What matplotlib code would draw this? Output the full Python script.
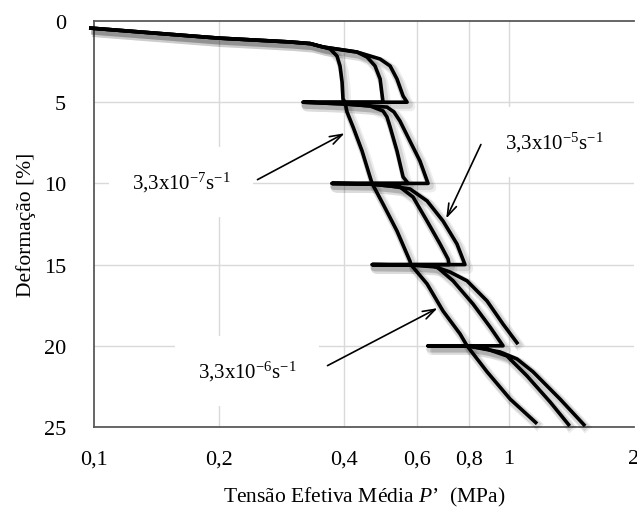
import numpy as np
import matplotlib
matplotlib.use("Agg")
import matplotlib.pyplot as plt
import matplotlib.patheffects as pe

plt.rcParams['font.family'] = ['Liberation Serif', 'DejaVu Serif']
plt.rcParams['mathtext.fontset'] = 'custom'
plt.rcParams['mathtext.rm'] = 'Liberation Serif'
plt.rcParams['mathtext.it'] = 'Liberation Serif:italic'

# mean effective stress p' (MPa) and strain (%) for each strain rate
p_slow = [0.0973, 0.199, 0.2967, 0.3316, 0.3563, 0.3705, 0.385, 0.3915, 0.396, 0.398, 0.4025,
          0.407, 0.421, 0.4424, 0.4624, 0.4677,
          0.497, 0.537, 0.577, 0.580,
          0.6346, 0.6934, 0.762, 0.792,
          0.885, 1.006, 1.168]
e_slow = [0.43, 1.05, 1.29, 1.39, 1.60, 1.72, 2.16, 2.77, 3.76, 4.80, 5.0,
          5.6, 6.53, 8.0, 9.6, 10.0,
          11.27, 12.93, 14.78, 15.0,
          16.19, 17.86, 19.27, 20.0,
          21.6, 23.28, 24.8]

p_med = [0.0973, 0.199, 0.2967, 0.3316, 0.3563, 0.430, 0.4549, 0.4755, 0.489, 0.497,
         0.319, 0.4025, 0.4624, 0.497, 0.508, 0.517, 0.537, 0.5555, 0.5712,
         0.3745, 0.4624, 0.517, 0.546, 0.587, 0.6346, 0.682, 0.713, 0.717,
         0.468, 0.587, 0.671, 0.733, 0.819, 0.900, 0.967,
         0.638, 0.792, 0.885, 0.989, 1.105, 1.256, 1.40]
e_med = [0.43, 1.05, 1.29, 1.39, 1.60, 1.91, 2.22, 2.77, 3.57, 5.0,
         5.0, 5.11, 5.23, 5.54, 5.91, 6.53, 8.0, 9.6, 10.0,
         10.0, 10.04, 10.16, 10.22, 10.84, 12.32, 13.73, 14.66, 15.0,
         15.0, 15.03, 15.15, 16.0, 17.43, 18.84, 20.0,
         20.0, 20.0, 20.2, 20.63, 21.86, 23.46, 24.94]

p_fast = [0.0973, 0.199, 0.2967, 0.3316, 0.3563, 0.430, 0.489, 0.517, 0.537, 0.5555, 0.568,
          0.319, 0.4025, 0.4624, 0.508, 0.528, 0.546, 0.577, 0.610, 0.638,
          0.3745, 0.4624, 0.517, 0.577, 0.6346, 0.6934, 0.749, 0.783,
          0.468, 0.587, 0.656, 0.721, 0.792, 0.885, 0.967, 1.051, np.nan,
          0.638, 0.792, 0.951, 1.045, 1.142, 1.327, 1.525]
e_fast = [0.43, 1.05, 1.29, 1.39, 1.60, 1.91, 2.34, 2.77, 3.57, 4.62, 5.0,
          5.0, 5.11, 5.23, 5.3, 5.6, 6.16, 7.39, 8.62, 10.0,
          10.0, 10.04, 10.16, 10.34, 11.08, 12.32, 13.73, 15.0,
          15.0, 15.03, 15.09, 15.46, 16.0, 17.24, 18.66, 19.9, np.nan,
          20.0, 20.0, 20.38, 20.81, 21.6, 23.28, 24.94]

x_ticks = [0.1, 0.2, 0.4, 0.6, 0.8, 1, 2]
x_labels = ['0,1', '0,2', '0,4', '0,6', '0,8', '1', '2']
y_ticks = [0, 5, 10, 15, 20, 25]

fig = plt.figure(figsize=(6.37, 5.10), dpi=100)
ax = fig.add_axes([94 / 637, 1 - 428 / 510, 540 / 637, 406 / 510])

# light grid drawn by hand so there is no line on the right edge
for gx in [0.2, 0.4, 0.6, 0.8, 1]:
    ax.axvline(gx, color='#d9d9d9', lw=1.0, zorder=0)
for gy in [5, 10, 15, 20]:
    ax.axhline(gy, color='#d9d9d9', lw=1.0, zorder=0)

shadow = [pe.SimpleLineShadow(offset=(1.5, -2.0), shadow_color='k', alpha=0.10, linewidth=5.5),
          pe.SimpleLineShadow(offset=(2.5, -3.0), shadow_color='k', alpha=0.07, linewidth=7),
          pe.Normal()]
for p, e in [(p_slow, e_slow), (p_med, e_med), (p_fast, e_fast)]:
    ax.plot(p, e, color='black', lw=2.6, solid_capstyle='butt', solid_joinstyle='round',
            clip_on=False, path_effects=shadow, zorder=3)

ax.set_xscale('log')
ax.set_xlim(0.1, 2)
ax.set_ylim(25, 0)
ax.set_xticks(x_ticks)
ax.set_xticklabels(x_labels)
ax.xaxis.set_minor_locator(matplotlib.ticker.NullLocator())
ax.set_yticks(y_ticks)
ax.tick_params(length=0, labelsize=16, pad=16)
ax.tick_params(axis='y', pad=20)

for s in ['left', 'bottom', 'top']:
    ax.spines[s].set_color('#595959')
    ax.spines[s].set_linewidth(1.3)
ax.spines['right'].set_visible(False)

ax.set_xlabel('Tensão Efetiva Média $\\mathit{P’}$  (MPa)', fontsize=15.5, labelpad=12)
ax.set_ylabel('Deformação [%]', fontsize=15.5, labelpad=6)

# strain rate labels with arrows
box = dict(boxstyle='square,pad=1.1', fc='white', ec='none')
arrow = dict(arrowstyle='->,head_length=0.9,head_width=0.3', color='black', lw=1.2)
ax.text(0.162, 9.91, '3,3x10$^{-7}$s$^{-1}$', fontsize=15, ha='center', va='center', bbox=box, zorder=2)
ax.annotate('', xy=(0.4071, 6.83), xytext=(0.2443, 9.85), arrowprops=arrow, zorder=4)
ax.text(1.283, 7.45, '3,3x10$^{-5}$s$^{-1}$', fontsize=15, ha='center', va='center', bbox=box, zorder=2)
ax.annotate('', xy=(0.701, 12.32), xytext=(0.861, 7.45), arrowprops=arrow, zorder=4)
ax.text(0.2337, 21.55, '3,3x10$^{-6}$s$^{-1}$', fontsize=15, ha='center', va='center', bbox=box, zorder=2)
ax.annotate('', xy=(0.682, 17.6), xytext=(0.3603, 21.3), arrowprops=arrow, zorder=4)

fig.savefig('out.png', dpi=100)
